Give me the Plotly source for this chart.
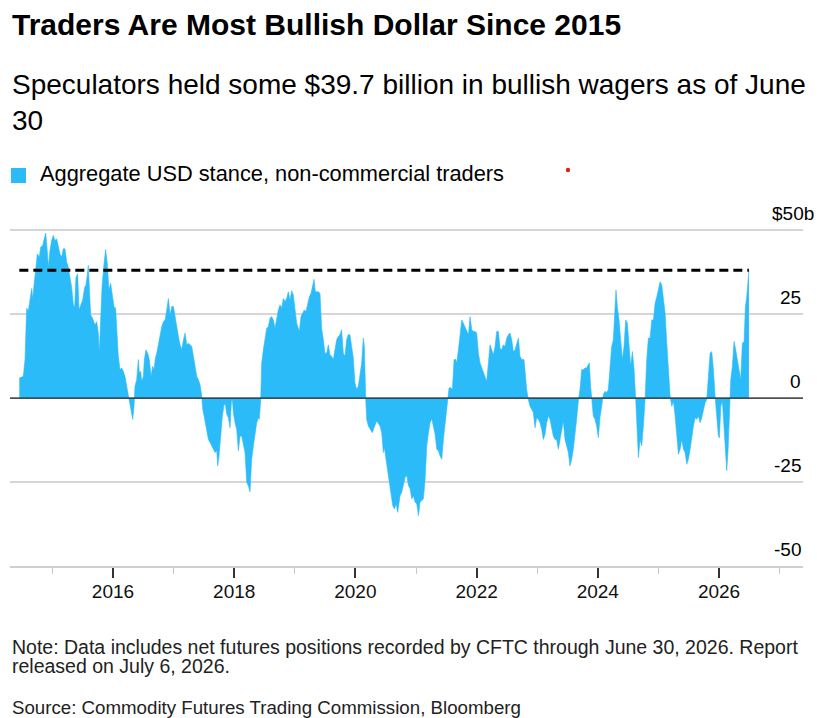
import pandas as pd
import plotly.graph_objects as go

# weekly CFTC aggregate USD stance (decimal year, $bn)
t_years = [
    2014.454, 2014.520, 2014.548, 2014.575, 2014.603, 2014.630, 2014.658, 2014.674, 2014.696, 2014.729,
    2014.751, 2014.784, 2014.806, 2014.839, 2014.861, 2014.889, 2014.911, 2014.933, 2014.960, 2014.988,
    2015.015, 2015.043, 2015.070, 2015.098, 2015.125, 2015.153, 2015.180, 2015.208, 2015.235, 2015.263,
    2015.290, 2015.318, 2015.345, 2015.367, 2015.389, 2015.417, 2015.439, 2015.466, 2015.499, 2015.532,
    2015.554, 2015.576, 2015.593, 2015.610, 2015.632, 2015.664, 2015.703, 2015.731, 2015.758, 2015.775,
    2015.797, 2015.819, 2015.852, 2015.879, 2015.907, 2015.934, 2015.962, 2015.989, 2016.017, 2016.044,
    2016.061, 2016.088, 2016.116, 2016.143, 2016.171, 2016.198, 2016.226, 2016.253, 2016.281, 2016.308,
    2016.325, 2016.347, 2016.363, 2016.391, 2016.418, 2016.435, 2016.457, 2016.473, 2016.501, 2016.517,
    2016.544, 2016.572, 2016.599, 2016.627, 2016.655, 2016.677, 2016.699, 2016.721, 2016.748, 2016.776,
    2016.803, 2016.831, 2016.858, 2016.886, 2016.913, 2016.941, 2016.968, 2016.996, 2017.023, 2017.051,
    2017.078, 2017.106, 2017.133, 2017.161, 2017.188, 2017.216, 2017.243, 2017.271, 2017.298, 2017.326,
    2017.353, 2017.381, 2017.408, 2017.436, 2017.463, 2017.480, 2017.502, 2017.535, 2017.573, 2017.601,
    2017.628, 2017.656, 2017.683, 2017.711, 2017.727, 2017.749, 2017.777, 2017.804, 2017.832, 2017.854,
    2017.876, 2017.903, 2017.931, 2017.953, 2017.969, 2017.986, 2018.013, 2018.041, 2018.068, 2018.096,
    2018.123, 2018.151, 2018.178, 2018.206, 2018.233, 2018.261, 2018.288, 2018.316, 2018.343, 2018.371,
    2018.398, 2018.415, 2018.437, 2018.453, 2018.481, 2018.508, 2018.536, 2018.563, 2018.591, 2018.618,
    2018.646, 2018.673, 2018.701, 2018.728, 2018.756, 2018.783, 2018.811, 2018.838, 2018.866, 2018.893,
    2018.921, 2018.948, 2018.976, 2019.003, 2019.031, 2019.058, 2019.075, 2019.102, 2019.130, 2019.157,
    2019.185, 2019.212, 2019.240, 2019.267, 2019.295, 2019.317, 2019.339, 2019.361, 2019.388, 2019.416,
    2019.443, 2019.471, 2019.498, 2019.526, 2019.553, 2019.581, 2019.608, 2019.636, 2019.663, 2019.691,
    2019.718, 2019.746, 2019.773, 2019.801, 2019.828, 2019.856, 2019.883, 2019.911, 2019.938, 2019.966,
    2019.993, 2020.021, 2020.049, 2020.076, 2020.104, 2020.131, 2020.148, 2020.170, 2020.186, 2020.214,
    2020.241, 2020.279, 2020.307, 2020.351, 2020.406, 2020.434, 2020.461, 2020.478, 2020.505, 2020.533,
    2020.560, 2020.588, 2020.615, 2020.643, 2020.670, 2020.698, 2020.725, 2020.736, 2020.764, 2020.791,
    2020.819, 2020.846, 2020.874, 2020.901, 2020.929, 2020.956, 2020.984, 2021.011, 2021.039, 2021.066,
    2021.094, 2021.121, 2021.149, 2021.176, 2021.204, 2021.231, 2021.259, 2021.286, 2021.314, 2021.341,
    2021.369, 2021.396, 2021.424, 2021.451, 2021.479, 2021.506, 2021.523, 2021.545, 2021.572, 2021.600,
    2021.627, 2021.655, 2021.671, 2021.699, 2021.726, 2021.754, 2021.781, 2021.809, 2021.836, 2021.864,
    2021.891, 2021.919, 2021.946, 2021.974, 2022.001, 2022.029, 2022.056, 2022.084, 2022.111, 2022.139,
    2022.166, 2022.194, 2022.221, 2022.249, 2022.276, 2022.304, 2022.331, 2022.359, 2022.386, 2022.414,
    2022.441, 2022.469, 2022.496, 2022.524, 2022.551, 2022.579, 2022.606, 2022.634, 2022.661, 2022.689,
    2022.716, 2022.744, 2022.782, 2022.799, 2022.826, 2022.854, 2022.881, 2022.909, 2022.936, 2022.964,
    2022.991, 2023.019, 2023.046, 2023.074, 2023.101, 2023.129, 2023.156, 2023.184, 2023.211, 2023.239,
    2023.266, 2023.294, 2023.321, 2023.349, 2023.376, 2023.404, 2023.431, 2023.459, 2023.486, 2023.514,
    2023.541, 2023.569, 2023.596, 2023.624, 2023.651, 2023.679, 2023.706, 2023.734, 2023.761, 2023.789,
    2023.816, 2023.844, 2023.860, 2023.882, 2023.904, 2023.926, 2023.954, 2023.981, 2024.009, 2024.036,
    2024.064, 2024.091, 2024.119, 2024.146, 2024.174, 2024.201, 2024.229, 2024.256, 2024.284, 2024.300,
    2024.322, 2024.350, 2024.377, 2024.405, 2024.432, 2024.460, 2024.487, 2024.515, 2024.542, 2024.570,
    2024.598, 2024.625, 2024.653, 2024.669, 2024.697, 2024.724, 2024.751, 2024.779, 2024.806, 2024.834,
    2024.861, 2024.889, 2024.916, 2024.944, 2024.972, 2024.999, 2025.027, 2025.054, 2025.081, 2025.109,
    2025.137, 2025.164, 2025.192, 2025.219, 2025.247, 2025.274, 2025.301, 2025.329, 2025.357, 2025.384,
    2025.412, 2025.439, 2025.467, 2025.494, 2025.522, 2025.549, 2025.577, 2025.604, 2025.632, 2025.659,
    2025.687, 2025.714, 2025.742, 2025.769, 2025.797, 2025.824, 2025.852, 2025.879, 2025.907, 2025.934,
    2025.961, 2025.989, 2026.006, 2026.028, 2026.055, 2026.083, 2026.110, 2026.127, 2026.149, 2026.171,
    2026.193, 2026.220, 2026.248, 2026.275, 2026.303, 2026.330, 2026.357, 2026.385, 2026.413, 2026.435,
    2026.457, 2026.493,
]
usd_bn = [
    6.0, 6.5, 11.5, 26.8, 26.0, 29.7, 32.7, 29.7, 34.0, 40.0,
    43.0, 42.0, 45.0, 45.5, 47.5, 49.2, 45.0, 39.0, 44.0, 47.0,
    48.5, 47.0, 47.5, 45.5, 43.0, 42.0, 44.5, 44.5, 40.6, 39.0,
    36.0, 33.0, 28.0, 26.8, 36.0, 37.0, 26.3, 27.8, 29.2, 33.0,
    33.7, 36.7, 39.6, 33.0, 24.8, 23.8, 21.8, 22.8, 19.4, 13.4,
    24.3, 33.0, 40.0, 44.3, 40.0, 32.2, 34.2, 30.2, 27.3, 26.8,
    20.4, 12.5, 8.5, 9.0, 8.0, 6.5, 3.6, 0.6, -1.9, -5.3,
    -6.3, -2.4, 3.6, 5.5, 11.5, 7.5, 8.0, 5.0, 6.5, 11.5,
    14.4, 13.4, 11.5, 6.5, 9.5, 8.5, 12.0, 13.4, 16.4, 18.9,
    21.3, 22.8, 23.3, 26.3, 29.7, 24.8, 27.3, 27.3, 24.3, 20.4,
    18.4, 15.9, 14.4, 17.4, 19.4, 15.9, 16.4, 15.9, 15.4, 12.5,
    9.5, 6.5, 5.5, 4.0, 0.6, -3.4, -5.3, -8.3, -12.3, -13.2,
    -14.2, -15.2, -16.2, -15.7, -20.2, -17.2, -10.3, -5.3, -1.9, -1.9,
    -4.8, -5.8, -8.8, -0.9, -0.4, -4.3, -7.3, -9.3, -15.7, -11.3,
    -11.3, -14.2, -16.2, -25.1, -26.1, -27.9, -18.2, -14.2, -10.3, -7.3,
    -5.8, -6.3, -0.4, 10.5, 14.4, 18.4, 20.8, 21.3, 23.8, 24.3,
    23.3, 20.8, 23.8, 26.3, 27.8, 26.8, 29.7, 28.8, 29.7, 31.7,
    29.2, 32.0, 30.7, 27.3, 22.3, 20.8, 19.9, 24.3, 25.3, 26.3,
    25.8, 28.3, 30.2, 31.2, 33.7, 35.4, 31.7, 31.7, 31.7, 31.2,
    20.8, 17.4, 13.4, 13.4, 15.9, 12.9, 12.5, 11.5, 13.9, 17.4,
    18.4, 18.9, 20.4, 13.4, 12.5, 17.4, 18.9, 18.9, 15.4, 12.0,
    4.5, 2.6, 3.6, 7.5, 10.5, 17.9, 15.4, 0.1, -6.3, -8.3,
    -9.3, -10.3, -8.8, -6.8, -8.3, -10.3, -16.2, -14.7, -18.2, -22.1,
    -25.1, -29.1, -32.0, -33.0, -31.5, -34.0, -30.0, -29.1, -28.0, -26.0,
    -23.6, -23.0, -26.0, -27.0, -30.0, -29.1, -31.0, -31.5, -35.0, -31.0,
    -30.5, -30.0, -24.1, -14.2, -10.3, -7.3, -6.1, -8.3, -10.8, -15.2,
    -15.7, -17.2, -18.2, -12.3, -8.3, -3.4, -0.4, 3.1, 3.1, 2.6,
    11.5, 11.5, 10.5, 14.4, 18.9, 23.3, 22.3, 21.3, 19.9, 18.9,
    24.3, 20.4, 19.9, 19.9, 19.4, 13.4, 10.5, 9.0, 7.5, 6.0,
    5.0, 10.5, 15.9, 14.4, 12.9, 15.4, 19.9, 19.9, 14.9, 14.4,
    15.9, 15.4, 17.9, 18.9, 19.4, 17.4, 13.9, 14.4, 15.9, 17.9,
    12.5, 11.5, 11.5, 7.5, 2.6, -0.4, -2.4, -3.4, -4.3, -8.8,
    -5.8, -6.3, -7.3, -9.3, -12.3, -10.8, -7.3, -5.3, -6.3, -8.8,
    -11.3, -12.3, -12.3, -15.2, -12.3, -9.8, -6.8, -12.3, -14.2, -16.2,
    -20.2, -18.2, -15.2, -11.3, -6.3, -0.9, 2.6, 8.5, 8.5, 9.0,
    9.0, 10.0, 10.5, 3.6, -0.4, -5.3, -6.3, -8.3, -11.8, -5.8,
    -2.4, 1.1, 2.1, 1.6, 2.6, 8.5, 15.4, 17.4, 28.3, 32.2,
    27.3, 23.3, 17.4, 11.5, 15.4, 23.3, 22.3, 14.4, 9.5, 13.9,
    8.5, -0.4, -10.3, -17.7, -12.3, -14.2, -8.3, -0.4, 11.5, 17.9,
    17.9, 23.3, 23.3, 28.3, 30.2, 32.7, 34.7, 33.7, 30.2, 25.3,
    16.4, 8.5, 0.6, -2.4, -0.9, -5.3, -12.3, -16.7, -15.2, -12.3,
    -15.2, -16.2, -19.7, -18.2, -15.2, -11.3, -8.3, -5.8, -6.3, -5.3,
    -7.3, -5.8, -3.4, -1.4, -0.4, 6.5, 13.4, 13.9, 8.5, 0.6,
    -4.3, -11.3, -11.8, -2.4, -0.9, -10.3, -19.2, -21.6, -15.2, -2.4,
    5.5, 9.5, 16.9, 14.4, 11.5, 7.5, 5.5, 16.4, 16.9, 27.3,
    30.2, 38.1,
]

y_ticks = [-50, -25, 0, 25, 50]
y_tick_text = ["-50", "-25", "0", "25", "$50b"]

title = "Traders Are Most Bullish Dollar Since 2015"
subtitle = "Speculators held some $39.7 billion in bullish wagers as of June<br>30"
series_name = "Aggregate USD stance, non-commercial traders"
note_lines = [
    "Note: Data includes net futures positions recorded by CFTC through June 30, 2026. Report",
    "released on July 6, 2026.",
]
source = "Source: Commodity Futures Trading Commission, Bloomberg"

BLUE = "#2bbbf8"
FONT = "Liberation Sans, Arial, sans-serif"

W, H = 826, 718
OFF = 8  # the page body adds an 8px margin, so lay out 8px up/left
PLOT_L, PLOT_R, PLOT_T, PLOT_B = 10 - OFF, 803 - OFF, 227 - OFF, 566 - OFF
Y_RANGE = [-50, 51]


def to_date(t):
    y = int(t)
    start = pd.Timestamp(y, 1, 1)
    end = pd.Timestamp(y + 1, 1, 1)
    return start + (end - start) * (t - y)


def py(px):
    # page pixel row -> paper y
    return (PLOT_B - (px - OFF)) / (PLOT_B - PLOT_T)


def px_x(px):
    return ((px - OFF) - PLOT_L) / (PLOT_R - PLOT_L)


dates = [to_date(t) for t in t_years]

fig = go.Figure()
fig.add_trace(go.Scatter(x=dates, y=usd_bn, mode='lines', fill='tozeroy',
                         fillcolor=BLUE, line=dict(color=BLUE, width=0.6),
                         name=series_name, showlegend=False))
fig.add_trace(go.Scatter(x=[dates[0], dates[-1]], y=[usd_bn[-1], usd_bn[-1]],
                         mode='lines', line=dict(color='black', width=3, dash='9px,5px'),
                         showlegend=False, hoverinfo='skip'))

annotations = [
    dict(text="<b>%s</b>" % title, x=0, y=py(24), xanchor='left', yanchor='middle',
         font=dict(size=30, color='black')),
    dict(text=subtitle, x=0, y=py(102), xanchor='left', yanchor='middle', align='left',
         font=dict(size=28, color='black')),
    dict(text=series_name, x=px_x(37.5), y=py(174), xanchor='left', yanchor='middle',
         font=dict(size=21.8, color='black')),
    dict(text=note_lines[0], x=0, y=py(646.5), xanchor='left', yanchor='middle',
         font=dict(size=19.5, color='#222')),
    dict(text=note_lines[1], x=0, y=py(665.5), xanchor='left', yanchor='middle',
         font=dict(size=19.5, color='#222')),
    dict(text=source, x=0, y=py(707), xanchor='left', yanchor='middle',
         font=dict(size=18.7, color='#222')),
]
for v, lab in zip(y_ticks, y_tick_text):
    annotations.append(dict(text=lab, xref='paper', yref='y', x=1, y=v,
                            xanchor='right', yanchor='bottom', yshift=4,
                            xshift=13 if lab.endswith('b') else 0,
                            font=dict(size=19, color='black')))
for a in annotations:
    a.setdefault('xref', 'paper')
    a.setdefault('yref', 'paper')
    a['showarrow'] = False

shapes = [
    # legend swatch
    dict(type='rect', xref='paper', yref='paper', xsizemode='pixel', ysizemode='pixel',
         xanchor=px_x(18.5), yanchor=py(175.5), x0=-7.5, x1=7.5, y0=-7.5, y1=7.5,
         fillcolor=BLUE, line=dict(width=0)),
    dict(type='circle', xref='paper', yref='paper', xsizemode='pixel', ysizemode='pixel',
         xanchor=px_x(568), yanchor=py(170), x0=-2.2, x1=2.2, y0=-2.2, y1=2.2,
         fillcolor='#e0201b', line=dict(width=0)),
    # zero line above the fill
    dict(type='line', xref='paper', yref='y', x0=0, x1=1, y0=0, y1=0,
         line=dict(color='#222', width=1.2), layer='above'),
]

fig.update_layout(
    width=W, height=H,
    margin=dict(l=PLOT_L, r=W - PLOT_R, t=PLOT_T, b=H - PLOT_B, autoexpand=False),
    paper_bgcolor='white', plot_bgcolor='white',
    font=dict(family=FONT, color='black'),
    annotations=annotations, shapes=shapes,
    hovermode='x',
    xaxis=dict(type='date', range=[to_date(2014.30), to_date(2027.386)],
               tickformat='%Y', dtick='M24', tick0='2016-01-01',
               ticks='outside', ticklen=10, tickwidth=1.5, tickcolor='#333',
               tickfont=dict(size=19, color='#111'), ticklabelstandoff=-3,
               minor=dict(dtick='M12', tick0='2015-01-01', ticks='outside', ticklen=6,
                          tickwidth=1.2, tickcolor='#c8c8c8', showgrid=False),
               showline=True, linecolor='#cfcfcf', linewidth=1.5,
               showgrid=False, zeroline=False, automargin=False),
    yaxis=dict(range=Y_RANGE, tickvals=y_ticks, showticklabels=False,
               showgrid=True, gridcolor='#d6d6d6', gridwidth=1.5,
               zeroline=False, automargin=False, fixedrange=True),
)

fig.write_html("out.html")
